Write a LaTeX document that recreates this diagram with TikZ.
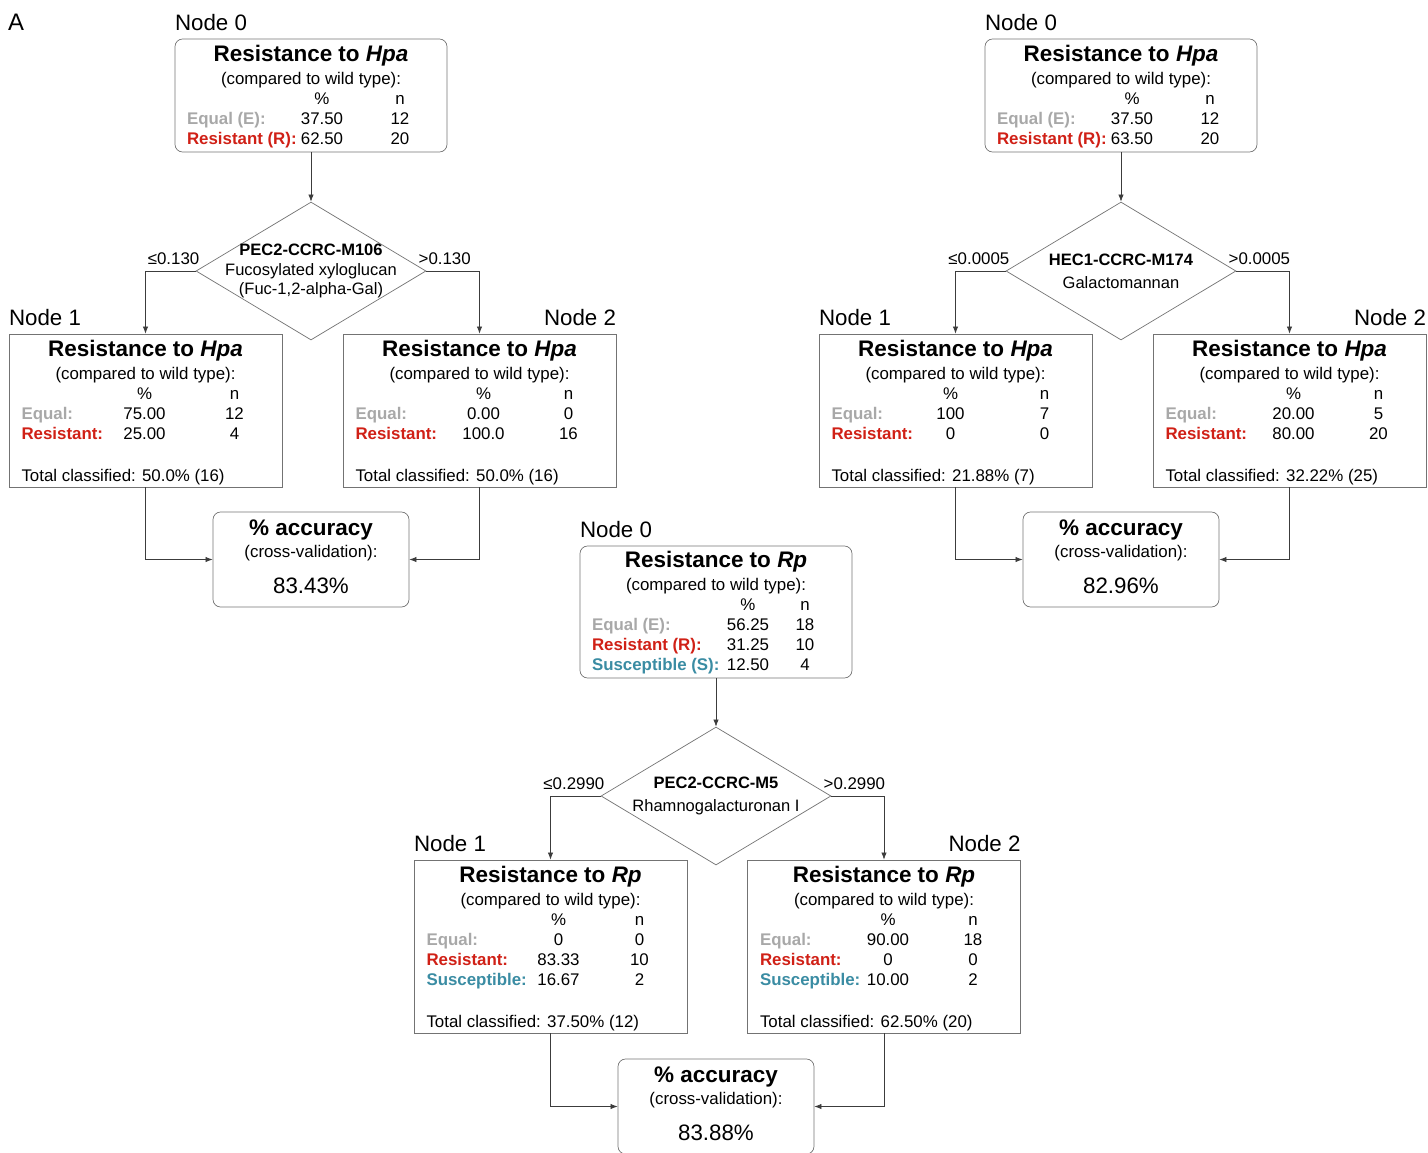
\documentclass[tikz,border=0pt]{standalone}
\usepackage{fontspec}
\setmainfont{Liberation Sans}
\usepackage{array}
\usepackage{xcolor}
\usetikzlibrary{shapes.geometric, positioning, arrows.meta, calc}

\definecolor{eqgray}{RGB}{168,168,168}
\definecolor{resred}{RGB}{208,32,22}
\definecolor{susteal}{RGB}{58,140,163}
\definecolor{framegray}{RGB}{115,115,115}
\definecolor{arrowgray}{RGB}{60,60,60}

\setlength{\tabcolsep}{0pt}
\newcommand{\bodyfont}{\fontsize{9.6pt}{11.4pt}\selectfont}
\newcommand{\headfont}{\fontsize{12.8pt}{15pt}\selectfont\bfseries}
\newcommand{\eqlbl}[1]{\textbf{\textcolor{eqgray}{#1}}}
\newcommand{\reslbl}[1]{\textbf{\textcolor{resred}{#1}}}
\newcommand{\suslbl}[1]{\textbf{\textcolor{susteal}{#1}}}
% #1 width of label column, #2 width of % column, #3 rows
\newcommand{\restab}[3]{\begin{tabular}{@{}w{l}{#1}w{c}{#2}w{c}{1.4cm}@{}}#3\end{tabular}}
\newcommand{\boxhead}[1]{\multicolumn{3}{c}{\headfont Resistance to \textit{#1}}\\[1.5pt]
  \multicolumn{3}{c}{(compared to wild type):}\\ & \% & n\\}
\newcommand{\acctab}[1]{\begin{tabular}{c}{\headfont \% accuracy}\\[1pt]
  (cross-validation):\\[8pt]{\fontsize{12.7pt}{15pt}\selectfont #1\%}\end{tabular}}

\begin{document}
\begin{tikzpicture}[
        x=0.02cm, y=-0.02cm,
        font=\bodyfont,
        % Styles for the tree parts
        rootbox/.style={
            draw=framegray, rounded corners=0.15cm,
            inner xsep=0.24cm, inner ysep=0pt, minimum width=5.44cm
        },
        leafbox/.style={
            draw=framegray,
            inner xsep=0.25cm, inner ysep=0pt, minimum width=5.46cm
        },
        accbox/.style={
            draw=framegray, rounded corners=0.15cm,
            inner sep=0pt, minimum width=3.92cm, minimum height=1.9cm
        },
        split/.style={
            diamond, draw=framegray, inner sep=0pt,
            minimum width=4.6cm, minimum height=2.76cm
        },
        splittext/.style={inner sep=0pt, align=center, font=\fontsize{9.4pt}{11pt}\selectfont},
        cut/.style={inner sep=0pt, font=\bodyfont},
        nodelbl/.style={inner sep=0pt, font=\fontsize{12.7pt}{15pt}\selectfont},
        arr/.style={draw=arrowgray, -{Latex[length=4pt, width=3pt]}}
    ]

    \useasboundingbox (0,0) rectangle (1428,1153);
    \node[inner sep=0pt, font=\fontsize{13.6pt}{16pt}\selectfont] (Panel) at (16,22) {A};

    % 1. TREE FOR HPA (LEFT)
    \node[rootbox, minimum height=2.26cm] (RootA) at (311,95.5) {\restab{1.84cm}{1.72cm}{\boxhead{Hpa}
        \eqlbl{Equal (E):} & 37.50 & 12\\
        \reslbl{Resistant (R):} & 62.50 & 20\\[-2.5pt]}};
    \node[split] (SplitA) at (311,271) {};
    \node[splittext] (SplitTextA) at (SplitA) {\textbf{PEC2-CCRC-M106}\\Fucosylated xyloglucan\\(Fuc-1,2-alpha-Gal)};
    \node[leafbox, minimum height=3.06cm] (LeftA) at (145.5,410.5) {\restab{1.36cm}{2.2cm}{\boxhead{Hpa}
        \eqlbl{Equal:} & 75.00 & 12\\
        \reslbl{Resistant:} & 25.00 & 4\\[12.5pt]
        \multicolumn{3}{l}{Total classified: 50.0\% (16)}\\[-4pt]}};
    \node[leafbox, minimum height=3.06cm] (RightA) at (479.5,410.5) {\restab{1.56cm}{2.0cm}{\boxhead{Hpa}
        \eqlbl{Equal:} & 0.00 & 0\\
        \reslbl{Resistant:} & 100.0 & 16\\[12.5pt]
        \multicolumn{3}{l}{Total classified: 50.0\% (16)}\\[-4pt]}};
    \node[accbox] (AccA) at (311,559.5) {\acctab{83.43}};

    \node[nodelbl, anchor=base west] (LblRootA) at ([yshift=0.17cm]RootA.north west) {Node 0};
    \node[nodelbl, anchor=base west] (LblLeftA) at ([yshift=0.17cm]LeftA.north west) {Node 1};
    \node[nodelbl, anchor=base east] (LblRightA) at ([yshift=0.17cm]RightA.north east) {Node 2};
    \node[cut, anchor=base east] (CutLeftA) at ([xshift=0.08cm, yshift=0.14cm]SplitA.west) {≤0.130};
    \node[cut, anchor=base west] (CutRightA) at ([xshift=-0.16cm, yshift=0.14cm]SplitA.east) {>0.130};

    \draw[arr] (RootA.south) -- (SplitA.north);
    \draw[arr] (SplitA.west) -| (LeftA.north);
    \draw[arr] (SplitA.east) -| (RightA.north);
    \draw[arr] (LeftA.south) |- (AccA.west);
    \draw[arr] (RightA.south) |- (AccA.east);

    % 2. TREE FOR HPA (RIGHT)
    \node[rootbox, minimum height=2.26cm] (RootB) at (1121,95.5) {\restab{1.84cm}{1.72cm}{\boxhead{Hpa}
        \eqlbl{Equal (E):} & 37.50 & 12\\
        \reslbl{Resistant (R):} & 63.50 & 20\\[-2.5pt]}};
    \node[split] (SplitB) at (1121,271) {};
    \node[splittext] (SplitTextB) at (SplitB) {\textbf{HEC1-CCRC-M174}\\[2pt]Galactomannan};
    \node[leafbox, minimum height=3.06cm] (LeftB) at (955.5,410.5) {\restab{1.2cm}{2.36cm}{\boxhead{Hpa}
        \eqlbl{Equal:} & 100 & 7\\
        \reslbl{Resistant:} & 0 & 0\\[12.5pt]
        \multicolumn{3}{l}{Total classified: 21.88\% (7)}\\[-4pt]}};
    \node[leafbox, minimum height=3.06cm] (RightB) at (1289.5,410.5) {\restab{1.56cm}{2.0cm}{\boxhead{Hpa}
        \eqlbl{Equal:} & 20.00 & 5\\
        \reslbl{Resistant:} & 80.00 & 20\\[12.5pt]
        \multicolumn{3}{l}{Total classified: 32.22\% (25)}\\[-4pt]}};
    \node[accbox] (AccB) at (1121,559.5) {\acctab{82.96}};

    \node[nodelbl, anchor=base west] (LblRootB) at ([yshift=0.17cm]RootB.north west) {Node 0};
    \node[nodelbl, anchor=base west] (LblLeftB) at ([yshift=0.17cm]LeftB.north west) {Node 1};
    \node[nodelbl, anchor=base east] (LblRightB) at ([yshift=0.17cm]RightB.north east) {Node 2};
    \node[cut, anchor=base east] (CutLeftB) at ([xshift=0.08cm, yshift=0.14cm]SplitB.west) {≤0.0005};
    \node[cut, anchor=base west] (CutRightB) at ([xshift=-0.16cm, yshift=0.14cm]SplitB.east) {>0.0005};

    \draw[arr] (RootB.south) -- (SplitB.north);
    \draw[arr] (SplitB.west) -| (LeftB.north);
    \draw[arr] (SplitB.east) -| (RightB.north);
    \draw[arr] (LeftB.south) |- (AccB.west);
    \draw[arr] (RightB.south) |- (AccB.east);

    % 3. TREE FOR RP (CENTRE)
    \node[rootbox, minimum height=2.64cm] (RootC) at (716,612) {\restab{2.68cm}{0.88cm}{\boxhead{Rp}
        \eqlbl{Equal (E):} & 56.25 & 18\\
        \reslbl{Resistant (R):} & 31.25 & 10\\
        \suslbl{Susceptible (S):} & 12.50 & 4\\[-2.5pt]}};
    \node[split] (SplitC) at (716,796) {};
    \node[splittext] (SplitTextC) at (SplitC) {\textbf{PEC2-CCRC-M5}\\[2pt]Rhamnogalacturonan I};
    \node[leafbox, minimum height=3.46cm] (LeftC) at (550.5,946.5) {\restab{1.72cm}{1.84cm}{\boxhead{Rp}
        \eqlbl{Equal:} & 0 & 0\\
        \reslbl{Resistant:} & 83.33 & 10\\
        \suslbl{Susceptible:} & 16.67 & 2\\[12.5pt]
        \multicolumn{3}{l}{Total classified: 37.50\% (12)}\\[-4pt]}};
    \node[leafbox, minimum height=3.46cm] (RightC) at (884,946.5) {\restab{1.56cm}{2.0cm}{\boxhead{Rp}
        \eqlbl{Equal:} & 90.00 & 18\\
        \reslbl{Resistant:} & 0 & 0\\
        \suslbl{Susceptible:} & 10.00 & 2\\[12.5pt]
        \multicolumn{3}{l}{Total classified: 62.50\% (20)}\\[-4pt]}};
    \node[accbox] (AccC) at (716,1106.5) {\acctab{83.88}};

    \node[nodelbl, anchor=base west] (LblRootC) at ([yshift=0.17cm]RootC.north west) {Node 0};
    \node[nodelbl, anchor=base west] (LblLeftC) at ([yshift=0.17cm]LeftC.north west) {Node 1};
    \node[nodelbl, anchor=base east] (LblRightC) at ([yshift=0.17cm]RightC.north east) {Node 2};
    \node[cut, anchor=base east] (CutLeftC) at ([xshift=0.08cm, yshift=0.14cm]SplitC.west) {≤0.2990};
    \node[cut, anchor=base west] (CutRightC) at ([xshift=-0.16cm, yshift=0.14cm]SplitC.east) {>0.2990};

    \draw[arr] (RootC.south) -- (SplitC.north);
    \draw[arr] (SplitC.west) -| (LeftC.north);
    \draw[arr] (SplitC.east) -| (RightC.north);
    \draw[arr] (LeftC.south) |- (AccC.west);
    \draw[arr] (RightC.south) |- (AccC.east);

\end{tikzpicture}
\end{document}
